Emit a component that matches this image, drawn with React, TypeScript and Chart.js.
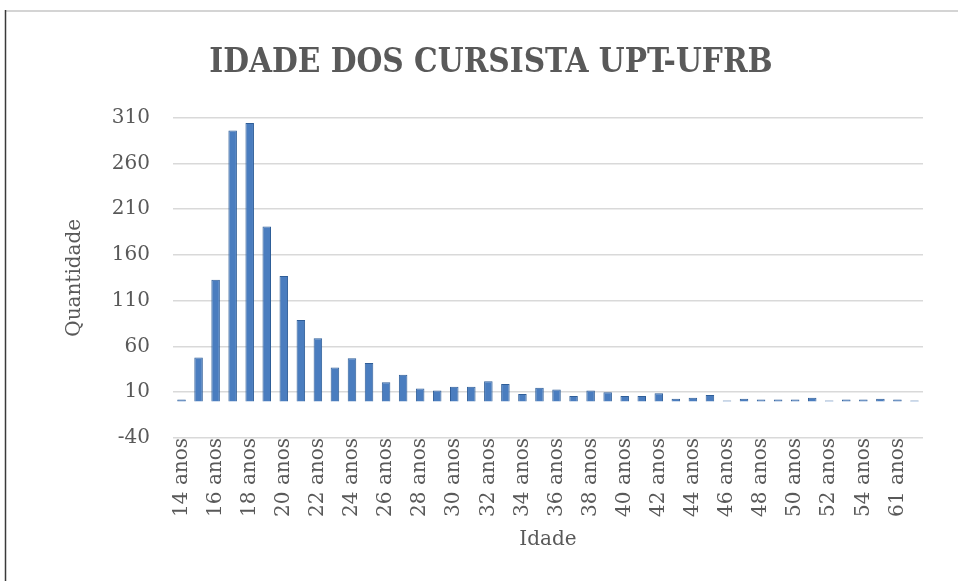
import React, { useEffect, useRef } from "react";
import { Chart, registerables } from "chart.js";

Chart.register(...registerables);

const categories: string[] = [
  "14 anos", "15 anos", "16 anos", "17 anos", "18 anos", "19 anos", "20 anos", "21 anos",
  "22 anos", "23 anos", "24 anos", "25 anos", "26 anos", "27 anos", "28 anos", "29 anos",
  "30 anos", "31 anos", "32 anos", "33 anos", "34 anos", "35 anos", "36 anos", "37 anos",
  "38 anos", "39 anos", "40 anos", "41 anos", "42 anos", "43 anos", "44 anos", "45 anos",
  "46 anos", "47 anos", "48 anos", "49 anos", "50 anos", "51 anos", "52 anos", "53 anos",
  "54 anos", "57 anos", "61 anos", "65 anos",
];

const quantidade: number[] = [
  2, 48, 133, 296, 304, 191, 137, 89,
  69, 37, 47, 42, 21, 29, 14, 12,
  16, 16, 22, 19, 8, 15, 13, 6,
  12, 10, 6, 6, 9, 3, 4, 7,
  1, 3, 2, 2, 2, 4, 1, 2,
  2, 3, 2, 1,
];

const yMin = -40;
const yMax = 310;
const yStep = 50;

const titleText = "IDADE DOS CURSISTA UPT-UFRB";
const yTitle = "Quantidade";
const xTitle = "Idade";

const TEXT = "#595959";
const GRID = "#D9D9D9";

const framePlugin = {
  id: "frame",
  beforeDraw(chart: any) {
    const { ctx, width, height } = chart;
    ctx.save();
    ctx.fillStyle = "#ffffff";
    ctx.fillRect(0, 0, width, height);
    ctx.strokeStyle = "#d4d4d4";
    ctx.lineWidth = 2;
    ctx.beginPath();
    ctx.moveTo(5, 11);
    ctx.lineTo(width, 11);
    ctx.stroke();
    ctx.strokeStyle = "#3a3a3a";
    ctx.lineWidth = 1.5;
    ctx.beginPath();
    ctx.moveTo(5.5, 10);
    ctx.lineTo(5.5, height);
    ctx.stroke();
    ctx.restore();
  },
};

export default function App() {
  const ref = useRef<HTMLCanvasElement | null>(null);

  useEffect(() => {
    document.body.style.margin = "0";
    const canvas = ref.current;
    if (!canvas) return;
    const chart = new Chart(canvas, {
      type: "bar",
      data: {
        labels: categories,
        datasets: [
          {
            label: yTitle,
            data: quantidade,
            backgroundColor: "#4A7DBF",
            borderColor: "#2F5E98",
            borderWidth: 1,
            barPercentage: 0.5,
            categoryPercentage: 1,
          },
        ],
      },
      options: {
        responsive: false,
        animation: false,
        devicePixelRatio: 1,
        layout: { padding: { left: 59, right: 35, top: 0, bottom: 25 } },
        plugins: {
          legend: { display: false },
          tooltip: { enabled: false },
          title: {
            display: true,
            text: titleText,
            color: TEXT,
            font: { family: "'DejaVu Serif Condensed', 'DejaVu Serif'", size: 33, weight: "bold" },
            padding: { top: 44, bottom: 34 },
          },
        },
        scales: {
          x: {
            grid: { display: false, drawTicks: false },
            border: { display: false },
            ticks: {
              autoSkip: false,
              maxRotation: 90,
              minRotation: 90,
              padding: 0,
              color: TEXT,
              font: { family: "'DejaVu Serif'", size: 20 },
              callback: (_v: any, i: number) => (i % 2 === 0 ? categories[i] : ""),
            },
            title: {
              display: true,
              text: xTitle,
              color: TEXT,
              font: { family: "'DejaVu Serif'", size: 20 },
              padding: { top: 4, bottom: 4 },
            },
            afterFit: (scale: any) => {
              scale.height = 118;
            },
          },
          y: {
            min: yMin,
            max: yMax,
            grid: { color: GRID, lineWidth: 1.5, drawTicks: false },
            border: { display: false },
            ticks: {
              stepSize: yStep,
              padding: 23,
              color: TEXT,
              font: { family: "'DejaVu Serif'", size: 20 },
            },
            title: {
              display: true,
              text: yTitle,
              color: TEXT,
              font: { family: "'DejaVu Serif'", size: 20 },
              padding: { top: 4, bottom: 4 },
            },
            afterFit: (scale: any) => {
              scale.width = 114;
            },
          },
        },
      },
      plugins: [framePlugin],
    });
    return () => chart.destroy();
  }, []);

  return (
    <div style={{ width: 958, height: 581 }}>
      <canvas ref={ref} width={958} height={581} style={{ display: "block" }} />
    </div>
  );
}
